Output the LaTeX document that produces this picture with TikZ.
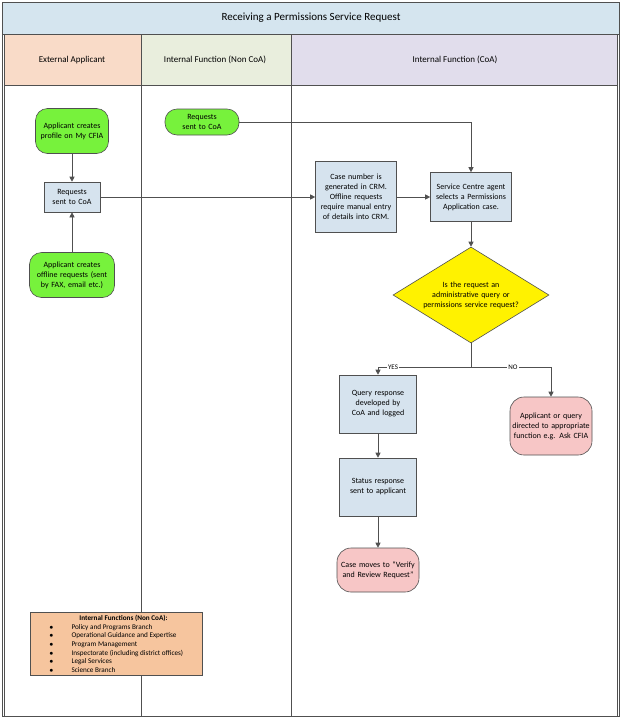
\documentclass[tikz,border=0pt]{standalone}
\usepackage{fontspec}
\setmainfont{Carlito}
\usetikzlibrary{shapes.geometric,arrows.meta}
\definecolor{grn}{HTML}{77F23C}
\definecolor{pnk}{HTML}{F7C6C6}
\definecolor{bxb}{HTML}{D6E3EE}
\definecolor{peach}{HTML}{F6C59E}
\definecolor{ttl}{HTML}{D5E5EF}
\definecolor{hA}{HTML}{F9DBC8}
\definecolor{hB}{HTML}{E9EEDD}
\definecolor{hC}{HTML}{E1DDEC}
\definecolor{ln}{HTML}{505050}
\tikzset{
 base/.style={draw=ln,line width=0.6pt,align=center,font=\fontsize{8}{10}\selectfont,inner sep=1pt},
 term/.style={base,fill=grn,rounded corners=12pt,minimum height=#1},
 endn/.style={base,fill=pnk,rounded corners=14pt},
 proc/.style={base,fill=bxb},
 arr/.style={draw=ln,line width=0.6pt,-{Triangle[length=5pt,width=5pt]}},
 lane/.style={draw=ln,line width=0.9pt}
}
\begin{document}
\hyphenpenalty=10000 \exhyphenpenalty=10000 \lefthyphenmin=64
\begin{tikzpicture}[x=1pt,y=-1pt]
\useasboundingbox (0,0) rectangle (625,721);
% frame
\fill[ttl] (2,2) rectangle (619,34);
\fill[hA] (4,34) rectangle (141,85);
\fill[hB] (141,34) rectangle (291,85);
\fill[hC] (291,34) rectangle (617,85);
\draw[lane] (2,2) rectangle (619,716);
\draw[lane] (2,34) -- (619,34);
\draw[lane] (4,34) -- (4,716);
\draw[lane] (617,34) -- (617,716);
\draw[lane] (4,85) -- (617,85);
\draw[lane] (141,34) -- (141,716);
\draw[lane] (291,34) -- (291,716);
\node[font=\fontsize{11}{13}\selectfont] (title) at (311,18) {Receiving a Permissions Service Request};
\node[font=\fontsize{9}{11}\selectfont] (hdA) at (72,60) {External Applicant};
\node[font=\fontsize{9}{11}\selectfont] (hdB) at (215,60) {Internal Function (Non CoA)};
\node[font=\fontsize{9}{11}\selectfont] (hdC) at (455,60) {Internal Function (CoA)};
% nodes
\node[term=45,minimum width=73,text width=68pt] (prof) at (72,131) {Applicant creates profile on My CFIA};
\node[proc,minimum width=56,minimum height=30,text width=50pt] (req) at (72,197) {Requests sent to CoA};
\node[term=45,minimum width=85,text width=80pt] (off) at (72,275) {Applicant creates offline requests (sent by FAX, email etc.)};
\node[term=26,minimum width=74,text width=70pt] (req2) at (202,122) {Requests sent to CoA};
\node[proc,minimum height=71,minimum width=81,text width=77pt] (case) at (356,197) {Case number is generated in CRM. Offline requests require manual entry of details into CRM.};
\node[proc,minimum height=49,minimum width=81,text width=72pt] (agent) at (471,197) {Service Centre agent selects a Permissions Application case.};
\node[base,diamond,fill=yellow,aspect=1.6,minimum width=156,minimum height=96,inner sep=0pt,text width=108pt] (dec) at (471,295) {Is the request an administrative query or permissions service request?};
\node[proc,minimum height=58,minimum width=77,text width=72pt] (qr) at (378,404) {Query response developed by CoA and logged};
\node[proc,minimum height=58,minimum width=77,text width=72pt] (sr) at (378,487) {Status response sent to applicant};
\node[endn,minimum height=44,minimum width=82,text width=78pt] (cm) at (378,570) {Case moves to ``Verify and Review Request''};
\node[endn,minimum height=58,minimum width=82,text width=78pt] (aq) at (551,426) {Applicant or query directed to appropriate function e.g. Ask CFIA};
\node[base,fill=peach,anchor=north west,align=left,minimum width=172,inner sep=3pt,font=\fontsize{7.2}{8.6}\selectfont] (leg) at (30,612) {\hspace*{30pt}\textbf{Internal Functions (Non CoA):}\\
$\bullet$\hspace{18pt}Policy and Programs Branch\\
$\bullet$\hspace{18pt}Operational Guidance and Expertise\\
$\bullet$\hspace{18pt}Program Management\\
$\bullet$\hspace{18pt}Inspectorate (including district offices)\\
$\bullet$\hspace{18pt}Legal Services\\
$\bullet$\hspace{18pt}Science Branch};
% connectors
\draw[arr] (prof) -- (req);
\draw[arr] (off) -- (req);
\draw[arr] (req) -- (case);
\draw[arr] (case) -- (agent);
\draw[arr] (req2.east) -| (agent.north);
\draw[arr] (agent) -- (dec);
\coordinate (br) at (471,367);
\draw[arr] (dec.south) -- (br) -| (qr.north);
\draw[arr] (br) -| (aq.north);
\node[fill=white,inner sep=1pt,font=\fontsize{7}{8}\selectfont] (yes) at (393,367) {YES};
\node[fill=white,inner sep=1pt,font=\fontsize{7}{8}\selectfont] (no) at (513,367) {NO};
\draw[arr] (qr) -- (sr);
\draw[arr] (sr) -- (cm);
\end{tikzpicture}
\end{document}
